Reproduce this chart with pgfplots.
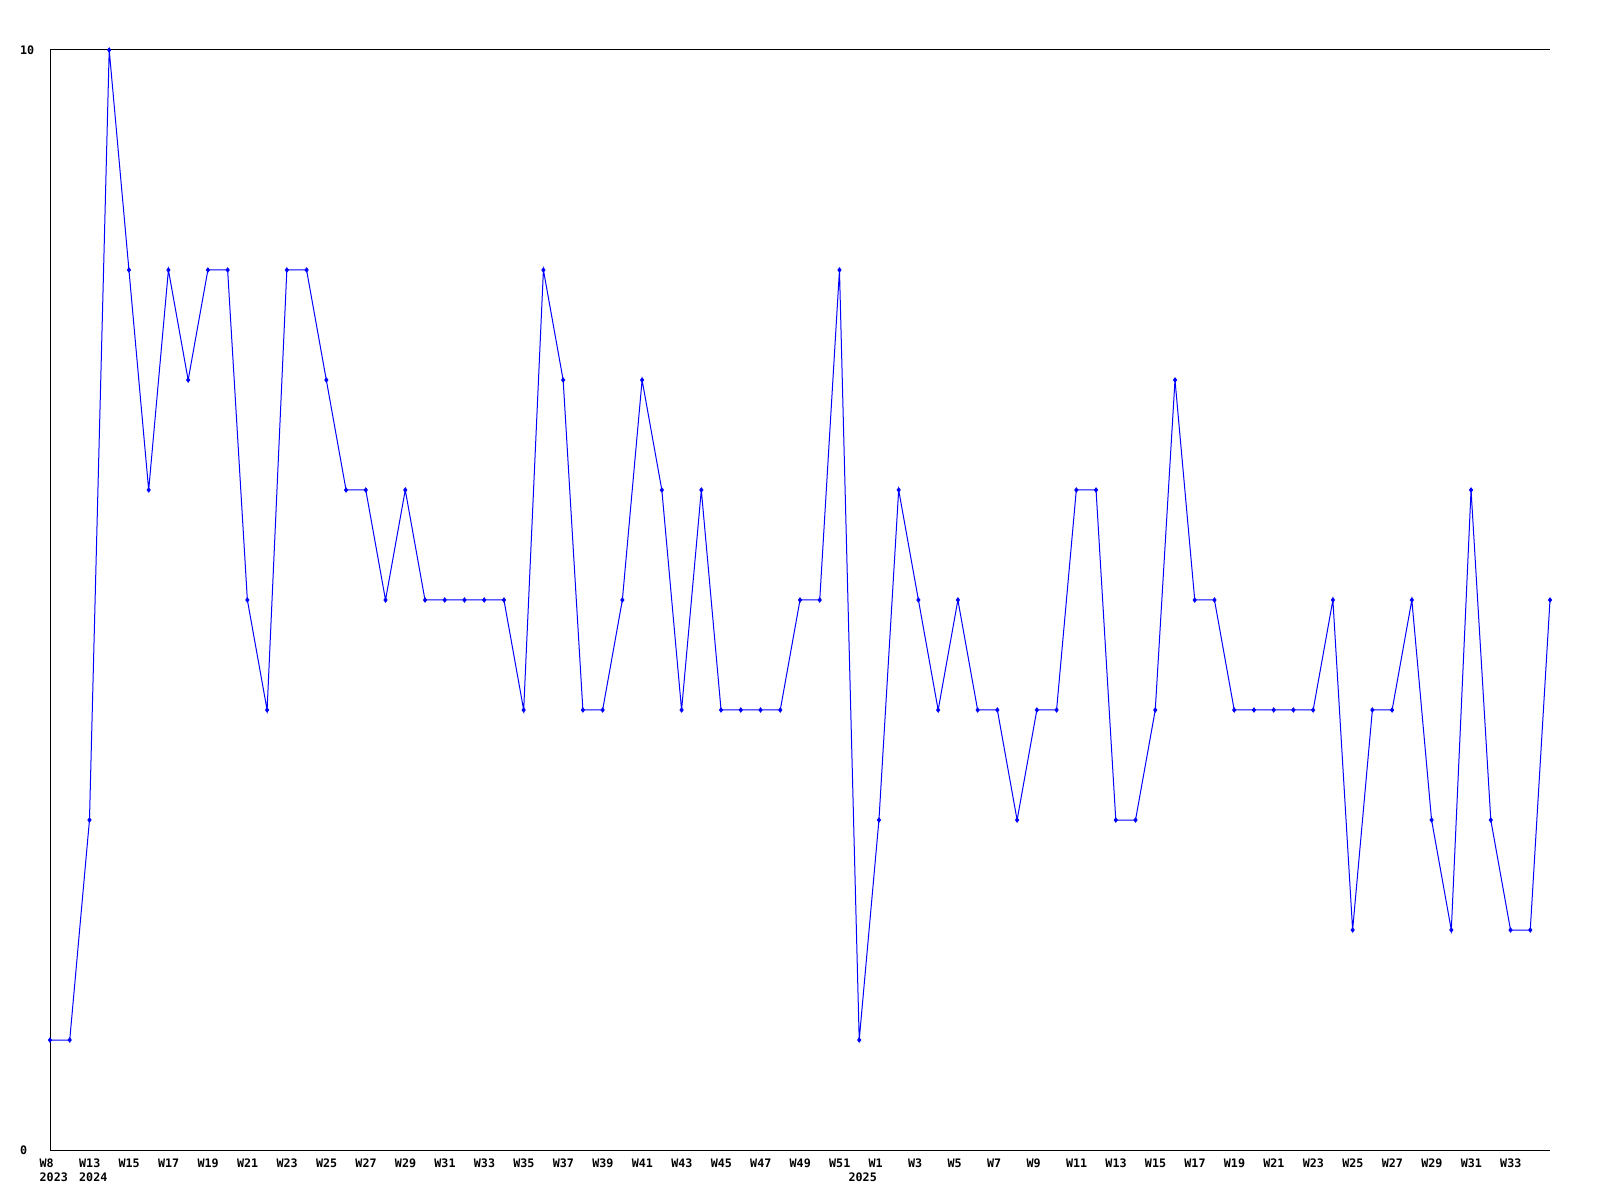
\documentclass[border=0pt]{standalone}
\usepackage{pgfplots}
\pgfplotsset{compat=1.18}
\usepackage{fontspec}
\setmonofont{DejaVu Sans Mono}
\definecolor{lineblue}{RGB}{0,0,255}
\begin{document}
\begin{tikzpicture}
\path[use as bounding box] (0,0) rectangle (800pt,600pt);
\begin{axis}[
  at={(25pt,25pt)}, anchor=south west,
  scale only axis, width=750pt, height=550pt,
  xmin=0, xmax=76, ymin=0, ymax=10,
  axis line style={draw=none},
  major tick length=0pt,
  xtick={0,2,...,74},
  xticklabels={{W8\\2023},{W13\\2024},W15,W17,W19,W21,W23,W25,W27,W29,W31,W33,W35,W37,W39,W41,W43,W45,W47,W49,W51,{W1\\\hspace*{-10pt}2025},W3,W5,W7,W9,W11,W13,W15,W17,W19,W21,W23,W25,W27,W29,W31,W33},
  ytick={0,10},
  yticklabels={0,10},
  xticklabel style={anchor=north west, align=left, inner sep=0pt, xshift=-5.35pt, yshift=-4.15pt, font=\fontsize{5.85}{7.25}\selectfont\ttfamily\bfseries},
  yticklabel style={anchor=west, inner sep=0pt, xshift=-15.2pt, font=\fontsize{5.85}{7.25}\selectfont\ttfamily\bfseries},
  clip=false,
]
\draw[black, line width=0.5pt] (rel axis cs:1,1) -- (rel axis cs:0,1) -- (rel axis cs:0,0) -- (rel axis cs:1,0);
\addplot[lineblue, line width=0.5pt, mark=diamond*, mark size=1pt, mark options={fill=lineblue, draw=lineblue}] table {
x y
0 1
1 1
2 3
3 10
4 8
5 6
6 8
7 7
8 8
9 8
10 5
11 4
12 8
13 8
14 7
15 6
16 6
17 5
18 6
19 5
20 5
21 5
22 5
23 5
24 4
25 8
26 7
27 4
28 4
29 5
30 7
31 6
32 4
33 6
34 4
35 4
36 4
37 4
38 5
39 5
40 8
41 1
42 3
43 6
44 5
45 4
46 5
47 4
48 4
49 3
50 4
51 4
52 6
53 6
54 3
55 3
56 4
57 7
58 5
59 5
60 4
61 4
62 4
63 4
64 4
65 5
66 2
67 4
68 4
69 5
70 3
71 2
72 6
73 3
74 2
75 2
76 5
};
\end{axis}
\end{tikzpicture}
\end{document}
